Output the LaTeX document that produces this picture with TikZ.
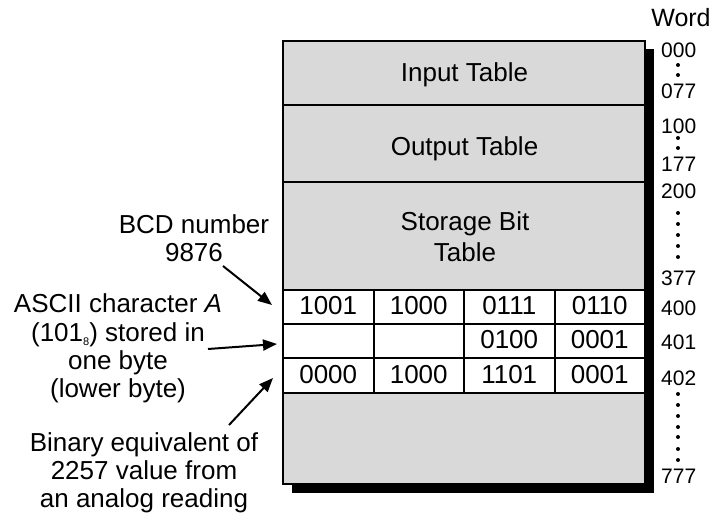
\documentclass[tikz,border=0pt]{standalone}
\usepackage{fontspec}
\setmainfont{Liberation Sans}
\usetikzlibrary{arrows.meta}
\definecolor{boxgray}{HTML}{D9D9D9}
\newcommand\mainsz{\fontsize{26}{28.3}\selectfont}
\newcommand\numsz{\fontsize{21}{21}\selectfont}
\begin{document}
\begin{tikzpicture}[x=1pt,y=-1pt,
  rowbox/.style={draw=black, line width=2pt, fill=boxgray, minimum width=362pt, inner sep=0pt, outer sep=0pt},
  cellbox/.style={draw=black, line width=2pt, fill=white, minimum width=90.5pt, inner sep=0pt, outer sep=0pt},
  rowtext/.style={font=\mainsz, align=center, inner sep=0pt, anchor=base},
  numlbl/.style={font=\numsz, inner sep=0pt, anchor=base west},
  sidelbl/.style={font=\mainsz, align=center, inner sep=0pt, anchor=base},
  ptr/.style={line width=2pt, -{Triangle[length=14pt,width=11pt]}},
  wdot/.style={fill=black}
]
\useasboundingbox (0,0) rectangle (713,516);
% shadow
\fill[black] (292,49) rectangle (654,493);
% rows
\node[rowbox, minimum height=64pt] (input) at (464,73) {};
\node[rowbox, minimum height=77pt] (output) at (464,143.5) {};
\node[rowbox, minimum height=108pt] (storage) at (464,236) {};
\node[rowbox, minimum height=91pt] (rest) at (464,438.5) {};
\node[rowtext] (tin) at (464.5,82) {Input Table};
\node[rowtext] (tout) at (464.5,156) {Output Table};
\node[rowtext, font=\fontsize{26}{31.7}\selectfont] (tsto) at (465,261.7) {Storage Bit\\Table};
% cells
\foreach \c/\x in {1/328.25,2/418.75,3/509.25,4/599.75}{
  \node[cellbox, minimum height=34pt] (a\c) at (\x,307) {};
  \node[cellbox, minimum height=34pt] (b\c) at (\x,341) {};
  \node[cellbox, minimum height=35pt] (c\c) at (\x,375.5) {};
}
\node[rowtext] at ([yshift=-7.5pt]a1.center) {1001};
\node[rowtext] at ([yshift=-7.5pt]a2.center) {1000};
\node[rowtext] at ([yshift=-7.5pt]a3.center) {0111};
\node[rowtext] at ([yshift=-7.5pt]a4.center) {0110};
\node[rowtext] at ([yshift=-7.5pt]b3.center) {0100};
\node[rowtext] at ([yshift=-7.5pt]b4.center) {0001};
\node[rowtext] at ([yshift=-7.5pt]c1.center) {0000};
\node[rowtext] at ([yshift=-7.5pt]c2.center) {1000};
\node[rowtext] at ([yshift=-7.5pt]c3.center) {1101};
\node[rowtext] at ([yshift=-7.5pt]c4.center) {0001};
% outer frame
\draw[line width=2pt] (283,41) rectangle (645,484);
% word column
\node[font=\fontsize{25}{25}\selectfont, inner sep=0pt, anchor=base] (word) at (681,27) {Word};
\node[numlbl] (w000) at (661,58) {000};
\node[numlbl] (w077) at (661,99) {077};
\node[numlbl] (w100) at (661,134) {100};
\node[numlbl] (w177) at (661,172) {177};
\node[numlbl] (w200) at (661,199) {200};
\node[numlbl] (w377) at (661,285) {377};
\node[numlbl] (w400) at (661,315) {400};
\node[numlbl] (w401) at (661,349) {401};
\node[numlbl] (w402) at (661,385) {402};
\node[numlbl] (w777) at (661,483) {777};
\foreach \y in {65,75,138,148,213,224,235,246,257,394,405,416,427,437,449,460}
  \fill[wdot] (678,\y) circle (2pt);
% side labels
\node[sidelbl] (bcd) at (194,261.7) {BCD number\\9876};
\node[sidelbl] (ascii) at (118,397.6) {ASCII character \textit{A}\\(101\raisebox{-0.3ex}{\fontsize{11}{11}\selectfont 8}) stored in\\one byte\\(lower byte)};
\node[sidelbl] (binary) at (144,507.6) {Binary equivalent of\\2257 value from\\an analog reading};
% arrows
\coordinate (s1) at (223,266);
\coordinate (t1) at (272,305);
\coordinate (s2) at (208,349);
\coordinate (t2) at (277,344);
\coordinate (s3) at (229,425);
\coordinate (t3) at (273,378);
\draw[ptr] (s1) -- (t1);
\draw[ptr] (s2) -- (t2);
\draw[ptr] (s3) -- (t3);
\end{tikzpicture}
\end{document}
